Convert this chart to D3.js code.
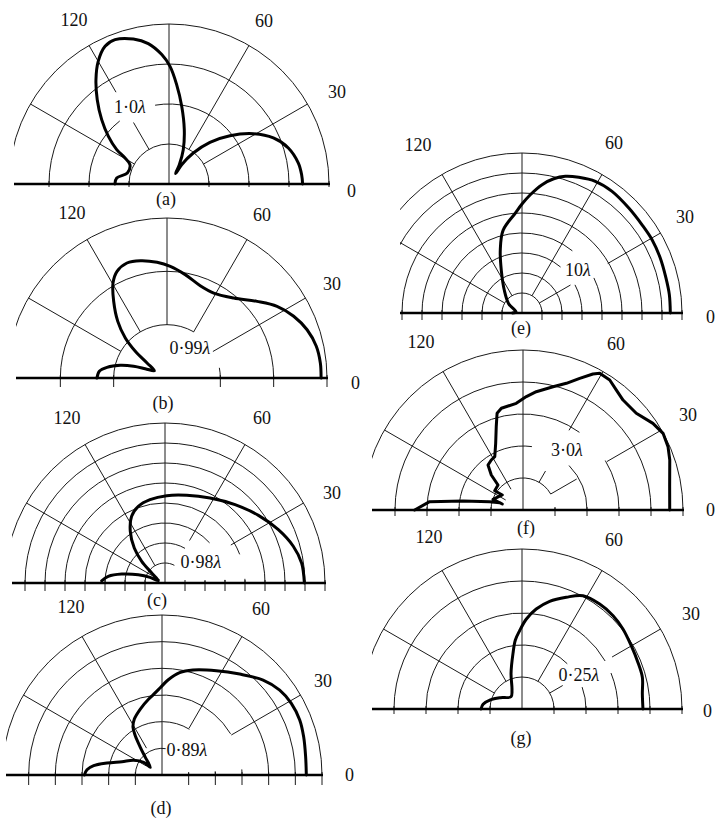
<!DOCTYPE html>
<html>
<head>
<meta charset="utf-8">
<script src="https://cdn.jsdelivr.net/npm/d3@7"></script>
<style>
html, body { margin: 0; padding: 0; background: #fff; }
svg { display: block; }
text { font-family: "Liberation Serif", "Times New Roman", serif; font-size: 18px; fill: #111; }
</style>
</head>
<body>
<svg id="chart" width="717" height="822"></svg>
<script>
// polar traces: angle in degrees (0 = right end, 180 = left end), radius relative to outer ring
var thetaA = [180, 173.5, 165.2, 153.7, 149.4, 146.7, 141.8, 136.3, 130.4, 125, 120, 114.9, 110.5, 103.8, 98.4, 93.2, 89.5, 85.6, 80.7, 74.3, 67.4, 61.9, 59.1, 57, 56.7, 51.9, 45.5, 38.4, 30.8, 23.8, 16.8, 9.2, 4, 0];
var rhoA   = [0.338, 0.329, 0.269, 0.272, 0.319, 0.391, 0.482, 0.582, 0.692, 0.796, 0.885, 0.949, 0.963, 0.933, 0.887, 0.81, 0.735, 0.623, 0.492, 0.353, 0.232, 0.137, 0.085, 0.077, 0.144, 0.246, 0.365, 0.486, 0.614, 0.713, 0.779, 0.819, 0.831, 0.835];

var thetaB = [180, 174.3, 169.9, 164.8, 160.6, 156.8, 150, 143.1, 139.9, 136.2, 131, 124.8, 119.6, 115.1, 109.2, 102.8, 94.9, 88.3, 80, 70.2, 61.2, 50.2, 40.4, 33.1, 26, 19, 12, 5.6, 0];
var rhoB   = [0.438, 0.425, 0.381, 0.302, 0.221, 0.148, 0.091, 0.156, 0.259, 0.361, 0.469, 0.584, 0.683, 0.736, 0.761, 0.752, 0.726, 0.698, 0.656, 0.613, 0.606, 0.651, 0.739, 0.821, 0.881, 0.926, 0.954, 0.963, 0.963];

var thetaC = [178, 173.3, 168.3, 162.7, 159.2, 161, 143.1, 137, 131.3, 123.9, 116.6, 109.2, 100.2, 88.9, 76.1, 62.1, 48.2, 35.9, 25.2, 16, 8.3, 0];
var rhoC   = [0.396, 0.357, 0.276, 0.175, 0.1, 0.044, 0.104, 0.199, 0.291, 0.389, 0.466, 0.507, 0.529, 0.546, 0.565, 0.601, 0.657, 0.721, 0.783, 0.834, 0.863, 0.871];

var thetaD = [180, 176, 172.2, 167.7, 161.6, 152.6, 145.3, 146.7, 133.3, 128, 124.2, 121.3, 116.3, 108.2, 99.9, 97.8, 91.5, 86.4, 80.2, 73.6, 62.5, 52.4, 43.2, 35.8, 29, 21.8, 15.1, 7.3, 0];
var rhoD   = [0.485, 0.47, 0.431, 0.352, 0.264, 0.2, 0.139, 0.087, 0.152, 0.22, 0.297, 0.349, 0.39, 0.434, 0.482, 0.494, 0.542, 0.595, 0.649, 0.684, 0.735, 0.796, 0.867, 0.907, 0.924, 0.927, 0.917, 0.905, 0.902];

var thetaE = [180, 170.5, 145, 127.9, 115.9, 109.1, 102.9, 93.8, 90, 86, 81.1, 76.7, 72.4, 67.3, 60.9, 53.5, 44.5, 36.3, 29.4, 21.7, 13.7, 7.1, 0];
var rhoE   = [0.06, 0.038, 0.102, 0.18, 0.296, 0.415, 0.53, 0.626, 0.681, 0.741, 0.812, 0.862, 0.896, 0.919, 0.942, 0.946, 0.936, 0.931, 0.933, 0.93, 0.926, 0.928, 0.927];

var thetaF = [180, 174.9, 171.5, 166, 162.6, 163.8, 160.4, 144, 145.7, 135, 132.2, 127.9, 122.4, 117.9, 112.3, 107.8, 105, 102, 93.6, 88.3, 83.6, 76.3, 71.1, 66.7, 62.8, 60.7, 56.3, 52.1, 47.7, 40.5, 33.7, 28.7, 23.6, 18.8, 9, 0];
var rhoF   = [0.677, 0.586, 0.379, 0.215, 0.153, 0.135, 0.199, 0.16, 0.214, 0.221, 0.295, 0.356, 0.37, 0.377, 0.45, 0.547, 0.626, 0.65, 0.668, 0.709, 0.744, 0.793, 0.837, 0.896, 0.956, 0.98, 0.977, 0.95, 0.929, 0.931, 0.976, 0.998, 0.989, 0.969, 0.928, 0.917];

var thetaG = [180, 173.2, 164.1, 152.5, 131.8, 117.8, 107.1, 99.2, 95.5, 91.7, 87.2, 81.9, 75.6, 68.4, 61.7, 53.5, 45.7, 38.4, 30.1, 21.9, 14.8, 7.1, 0];
var rhoG   = [0.256, 0.245, 0.206, 0.153, 0.103, 0.134, 0.233, 0.352, 0.433, 0.49, 0.563, 0.631, 0.695, 0.751, 0.804, 0.816, 0.815, 0.805, 0.789, 0.781, 0.778, 0.758, 0.756];

var angleLabels = ["120", "60", "30", "0"];
var panelNames = ["(a)", "(b)", "(c)", "(d)", "(e)", "(f)", "(g)"];
var lambdaValues = ["1·0", "0·99", "0·98", "0·89", "10", "3·0", "0·25"];
var ringCounts = [4, 3, 8, 6, 8, 5, 5];
var traces = [[thetaA, rhoA], [thetaB, rhoB], [thetaC, rhoC], [thetaD, rhoD], [thetaE, rhoE], [thetaF, rhoF], [thetaG, rhoG]];

var R = 160;
var svg = d3.select("#chart");
var defs = svg.append("defs");

// layout of each panel (centre, left crop, gaps left around the lambda label, text spots)
var panels = [
  {cx: 169, cy: 184, clipX: 14, tick: 3, jagged: false,
   ringGaps: {2: [[100, 128]]},
   spokes: {30: [[40, 160]], 60: [[40, 160]], 90: [[0, 160]], 120: [[40, 71], [106, 160]], 150: [[40, 160]]},
   txt: [[74, 20], [264, 21], [337, 92], [347, 191]], name: [166, 199], lam: [130, 107]},
  {cx: 167, cy: 378, clipX: 16, tick: 9, jagged: false,
   ringGaps: {1: [[11, 60]]},
   spokes: {30: [[53, 160]], 60: [[53, 160]], 90: [[53, 160]], 120: [[53, 160]], 150: [[53, 160]]},
   txt: [[72, 213], [262, 215], [332, 284], [351, 383]], name: [163, 403], lam: [190, 348]},
  {cx: 165, cy: 583, clipX: 12, tick: 8, jagged: false,
   ringGaps: {1: [[3, 62]], 2: [[3, 60]], 3: [[3, 42]], 4: [[3, 21]]},
   spokes: {30: [[76, 160]], 60: [[49, 160]], 90: [[0, 160]], 120: [[20, 160]], 150: [[6, 160]]},
   txt: [[67, 418], [262, 418], [332, 493], null], name: [157, 600], lam: [201, 562]},
  {cx: 162, cy: 775, clipX: 6, tick: 10, jagged: false,
   ringGaps: {1: [[4, 80]], 2: [[4, 59]], 3: [[4, 31]]},
   spokes: {30: [[80, 160]], 60: [[54, 160]], 90: [[0, 160]], 120: [[31, 160]], 150: [[18, 160]]},
   txt: [[71, 607], [261, 609], [323, 681], [345, 775]], name: [161, 808], lam: [187, 750]},
  {cx: 522, cy: 313, clipX: 400, tick: 7, jagged: false,
   ringGaps: {3: [[28, 50]], 4: [[26, 51]]},
   spokes: {30: [[20, 56], [99, 160]], 60: [[20, 160]], 90: [[0, 160]], 120: [[20, 160]], 150: [[20, 160]]},
   txt: [[418, 145], [614, 143], [685, 217], [706, 317]], name: [521, 328], lam: [578, 270]},
  {cx: 523, cy: 510, clipX: 372, tick: 6, jagged: true,
   ringGaps: {1: [[4, 30]], 2: [[44, 82]], 3: [[31, 54]]},
   spokes: {30: [[32, 62], [97, 160]], 60: [[32, 45], [92, 160]], 90: [[0, 160]], 120: [[24, 160]], 150: [[20, 160]]},
   txt: [[421, 342], [616, 344], [688, 415], [706, 510]], name: [526, 528], lam: [567, 450]},
  {cx: 522, cy: 709, clipX: 372, tick: 5, jagged: false,
   ringGaps: {2: [[20, 45]], 3: [[22, 30]]},
   spokes: {30: [[32, 47], [104, 160]], 60: [[32, 160]], 90: [[0, 160]], 120: [[32, 160]], 150: [[32, 160]]},
   txt: [[429, 537], [614, 540], [691, 614], [703, 711]], name: [521, 738], lam: [579, 675]}
];

var rad = Math.PI / 180;

panels.forEach(function(p, i) {
  var r = d3.scaleLinear().domain([0, 1]).range([0, R]);
  var g = svg.append("g").attr("transform", "translate(" + p.cx + "," + p.cy + ")");

  defs.append("clipPath").attr("id", "clip" + i)
    .append("rect")
    .attr("x", p.clipX - p.cx).attr("y", -R - 10)
    .attr("width", p.cx + R + 10 - p.clipX).attr("height", R + 30);

  var grid = g.append("g").attr("clip-path", "url(#clip" + i + ")")
    .attr("fill", "none").attr("stroke", "#1a1a1a").attr("stroke-width", 1);

  // rings
  var n = ringCounts[i];
  d3.range(1, n + 1).forEach(function(k) {
    var rr = R * k / n;
    var gaps = p.ringGaps[k] || [];
    var spans = [], start = 0;
    gaps.forEach(function(gp) { spans.push([start, gp[0]]); start = gp[1]; });
    spans.push([start, 180]);
    spans.forEach(function(s) {
      var path = d3.path();
      path.moveTo(rr * Math.cos(s[0] * rad), -rr * Math.sin(s[0] * rad));
      path.arc(0, 0, rr, -s[0] * rad, -s[1] * rad, true);
      grid.append("path").attr("d", path.toString());
    });
    [-rr, rr].forEach(function(x) {
      grid.append("line").attr("x1", x).attr("x2", x).attr("y1", -3).attr("y2", p.tick);
    });
  });

  // spokes
  Object.keys(p.spokes).forEach(function(a) {
    var ang = +a * rad;
    p.spokes[a].forEach(function(seg) {
      grid.append("line")
        .attr("x1", seg[0] * Math.cos(ang)).attr("y1", -seg[0] * Math.sin(ang))
        .attr("x2", seg[1] * Math.cos(ang)).attr("y2", -seg[1] * Math.sin(ang));
    });
  });

  // thick base line
  grid.append("line")
    .attr("x1", p.clipX - p.cx).attr("x2", R + 1)
    .attr("y1", 0).attr("y2", 0)
    .attr("stroke-width", 2.6).attr("stroke", "#000");

  // pattern trace
  var line = d3.lineRadial()
    .angle(function(d) { return (90 - d[0]) * rad; })
    .radius(function(d) { return r(d[1]); })
    .curve(p.jagged ? d3.curveLinear : d3.curveCatmullRom.alpha(0.5));

  g.append("path")
    .datum(d3.zip(traces[i][0], traces[i][1]))
    .attr("d", line)
    .attr("fill", "none")
    .attr("stroke", "#000")
    .attr("stroke-width", 3)
    .attr("stroke-linejoin", "round")
    .attr("stroke-linecap", "round");

  // texts
  angleLabels.forEach(function(lbl, j) {
    var pos = p.txt[j];
    if (!pos) return;
    svg.append("text")
      .attr("x", pos[0]).attr("y", pos[1])
      .attr("text-anchor", j === 3 ? "start" : "middle")
      .attr("dominant-baseline", "central")
      .text(lbl);
  });

  svg.append("text")
    .attr("x", p.name[0]).attr("y", p.name[1])
    .attr("text-anchor", "middle")
    .attr("dominant-baseline", "central")
    .text(panelNames[i]);

  var lt = svg.append("text")
    .attr("x", p.lam[0]).attr("y", p.lam[1])
    .attr("text-anchor", "middle")
    .attr("dominant-baseline", "central")
    .attr("stroke", "#fff").attr("stroke-width", 3).attr("paint-order", "stroke");
  lt.append("tspan").text(lambdaValues[i]);
  lt.append("tspan").attr("font-style", "italic").text("λ");
});
</script>
</body>
</html>
